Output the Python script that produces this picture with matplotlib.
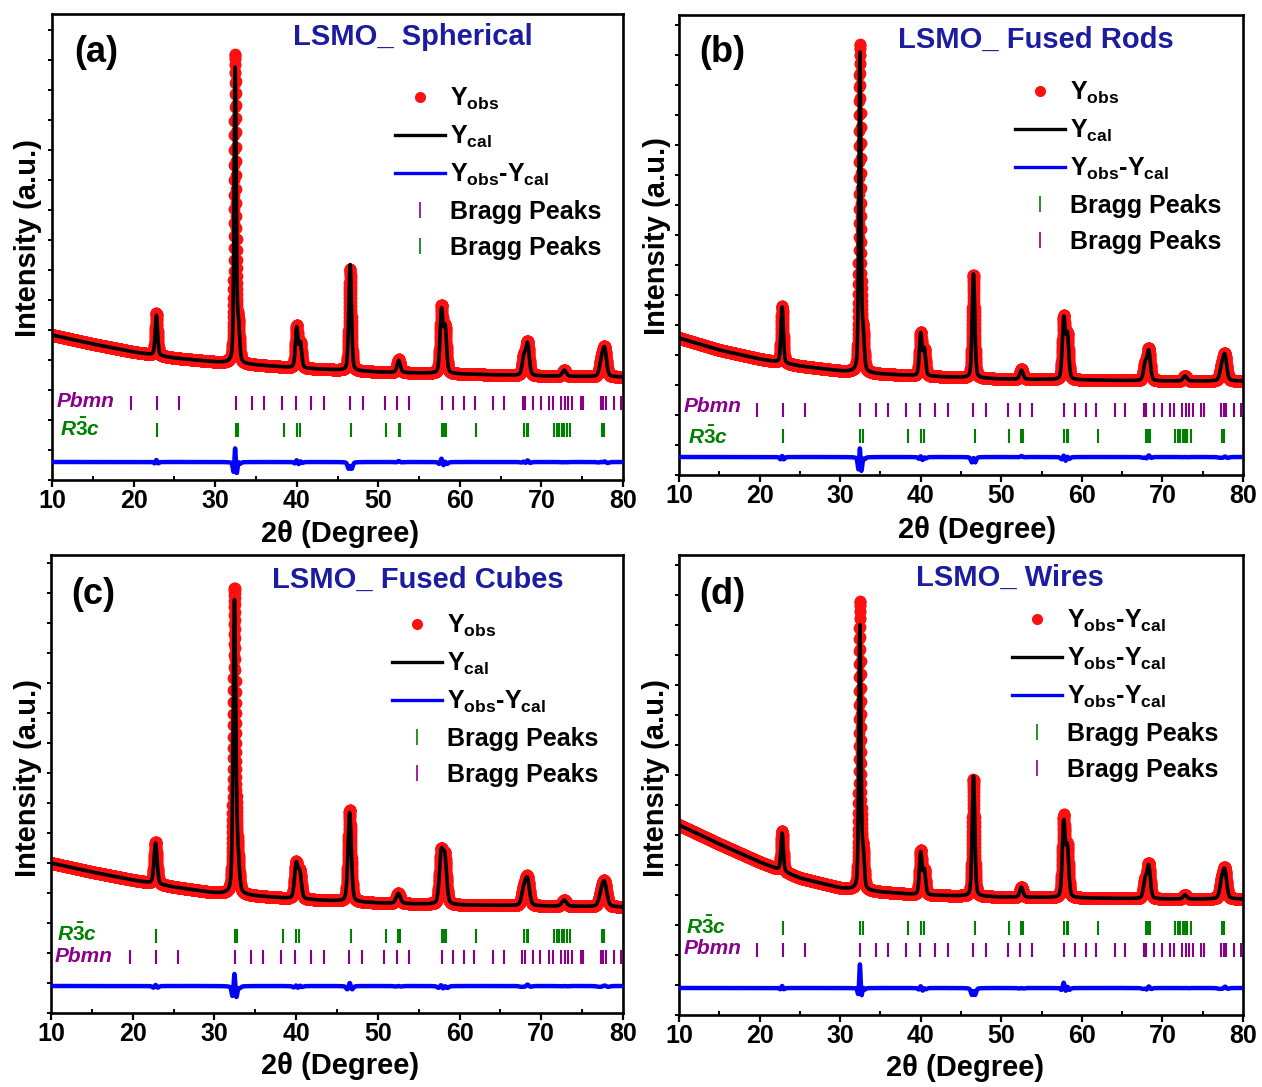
import numpy as np
import matplotlib
matplotlib.use("Agg")
import matplotlib.pyplot as plt
from matplotlib.lines import Line2D
from matplotlib.ticker import MultipleLocator

plt.rcParams['font.family'] = ['Liberation Sans', 'DejaVu Sans']
plt.rcParams['font.weight'] = 'bold'
plt.rcParams['mathtext.fontset'] = 'custom'
plt.rcParams['mathtext.rm'] = 'Liberation Sans:bold'
plt.rcParams['mathtext.bf'] = 'Liberation Sans:bold'
plt.rcParams['mathtext.it'] = 'Liberation Sans:bold:italic'

# ---------------- data ----------------
two_theta_range = (10, 80)
bg_x = [10, 15, 20, 25, 30, 35, 40, 50, 60, 70, 80]

# peak positions (deg) and FWHM (deg)
peak_pos = [22.8, 32.45, 32.85, 40.0, 40.45, 46.55, 52.5, 57.75, 58.2, 67.85, 68.3, 72.8, 77.35, 77.75]
peak_fwhm = [0.35, 0.30, 0.35, 0.38, 0.38, 0.38, 0.48, 0.42, 0.42, 0.48, 0.48, 0.55, 0.55, 0.55]

# (a) Spherical
bg_a = [145, 136, 128, 122, 118, 115, 112, 108, 106, 104, 103]
cal_a = [40, 294, 35, 40, 24, 106, 12, 62, 44, 18, 31, 6, 14, 26]
obs_a = [42, 308, 36, 42, 25, 102, 13, 66, 45, 19, 33, 6, 15, 27]
# (b) Fused Rods
bg_b = [137, 125, 116, 109, 104, 101, 99, 96, 95, 94, 94]
cal_b = [56, 318, 35, 42, 26, 104, 9, 60, 43, 16, 29, 5, 12, 24]
obs_b = [57, 327, 35, 43, 26, 103, 10, 62, 44, 16, 31, 5, 12, 25]
# (c) Fused Cubes
bg_c = [150, 141, 133, 126, 120, 117, 114, 110, 108, 107, 106]
cal_c = [41, 290, 35, 34, 25, 89, 10, 48, 44, 15, 25, 6, 11, 21]
obs_c = [42, 303, 35, 35, 26, 92, 10, 50, 45, 15, 27, 6, 11, 22]
# (d) Wires
bg_d = [190, 171, 153, 137, 127, 123, 120, 118, 117, 116, 116]
cal_d = [38, 263, 35, 42, 24, 120, 10, 74, 48, 18, 32, 4, 16, 26]
obs_d = [40, 287, 36, 44, 24, 117, 10, 80, 50, 18, 34, 4, 16, 28]

width_scale = [1.0, 1.0, 1.25, 1.0]
diff_offset = [18, 18, 27, 27]

# Bragg reflection positions
pbmn_pos = [19.7, 22.85, 25.6, 32.5, 34.5, 36.0, 38.2, 39.9, 41.8, 43.4, 46.5, 48.1, 50.8,
            52.3, 53.8, 57.8, 59.2, 60.5, 61.8, 64.1, 65.4, 67.7, 68.0, 69.0, 69.9, 70.9,
            71.4, 72.4, 72.9, 73.3, 73.8, 74.8, 75.1, 77.3, 77.6, 77.9, 78.9, 79.7]
r3c_pos = [22.9, 32.5, 32.8, 38.4, 40.0, 40.4, 46.7, 51.0, 52.5, 52.7, 57.8, 58.1, 58.3,
           62.0, 67.9, 68.2, 68.4, 71.6, 71.9, 72.2, 72.5, 72.8, 73.1, 73.5, 77.4, 77.7]

titles = ['LSMO_ Spherical', 'LSMO_ Fused Rods', 'LSMO_ Fused Cubes', 'LSMO_ Wires']
panel_tags = ['(a)', '(b)', '(c)', '(d)']
legend_labels = [
    ['Y$_{\\rm obs}$', 'Y$_{\\rm cal}$', 'Y$_{\\rm obs}$-Y$_{\\rm cal}$', 'Bragg Peaks', 'Bragg Peaks'],
    ['Y$_{\\rm obs}$', 'Y$_{\\rm cal}$', 'Y$_{\\rm obs}$-Y$_{\\rm cal}$', 'Bragg Peaks', 'Bragg Peaks'],
    ['Y$_{\\rm obs}$', 'Y$_{\\rm cal}$', 'Y$_{\\rm obs}$-Y$_{\\rm cal}$', 'Bragg Peaks', 'Bragg Peaks'],
    ['Y$_{\\rm obs}$-Y$_{\\rm cal}$', 'Y$_{\\rm obs}$-Y$_{\\rm cal}$', 'Y$_{\\rm obs}$-Y$_{\\rm cal}$', 'Bragg Peaks', 'Bragg Peaks'],
]
bragg_order = [['Pbmn', 'R3c'], ['R3c', 'Pbmn'], ['R3c', 'Pbmn'], ['R3c', 'Pbmn']]

# ---------------- styling / layout ----------------
W, H = 1262, 1087
RED, BLUE, PURPLE, GREEN, NAVY = '#ff1010', '#0000ff', '#8b008b', '#008000', '#1c1ca0'

# axes boxes in pixels: left, right, top, bottom
boxes = [(52, 623, 14, 480), (679, 1243, 15, 475), (51, 623, 555, 1013), (679, 1243, 555, 1015)]
title_xy = [(413, 37), (1036, 40), (418, 580), (1010, 578)]
tag_xy = [(96, 52), (722, 53), (93, 595), (722, 595)]
xlabel_xy = [(340, 534), (977, 530), (340, 1066), (965, 1068)]
ylabel_xy = [(28, 238), (657, 236), (28, 778), (656, 778)]
legend_xy = [(395, 86), (1015, 80), (392, 613), (1012, 608)]
# phase label (left x, centre y) and tick-row centre y, in pixels
phase_rows = [
    {'Pbmn': (57, 401, 403), 'R3c': (60, 429, 430)},
    {'Pbmn': (684, 407, 410), 'R3c': (688, 437, 436)},
    {'R3c': (57, 934, 936), 'Pbmn': (55, 957, 957)},
    {'R3c': (686, 927, 928), 'Pbmn': (684, 948, 950)},
]

fig = plt.figure(figsize=(W / 100, H / 100), dpi=100)

x = np.arange(10.0, 80.0001, 0.01)


def profile(tt, bgy, heights, fwhm_scale, wfac=1.0):
    y = np.interp(tt, bg_x, bgy).astype(float)
    eta = 0.3
    for p, h, w in zip(peak_pos, heights, peak_fwhm):
        w = w * fwhm_scale * wfac
        g = np.exp(-4 * np.log(2) * ((tt - p) / w) ** 2)
        l = 1.0 / (1.0 + 4 * ((tt - p) / w) ** 2)
        y += h * ((1 - eta) * g + eta * l)
    return y


all_bg = [bg_a, bg_b, bg_c, bg_d]
all_cal = [cal_a, cal_b, cal_c, cal_d]
all_obs = [obs_a, obs_b, obs_c, obs_d]

for i in range(4):
    l, r, t, b = boxes[i]
    ax = fig.add_axes([l / W, 1 - b / H, (r - l) / W, (b - t) / H])
    ysize = b - t
    cal = profile(x, all_bg[i], all_cal[i], width_scale[i])
    obs = profile(x, all_bg[i], all_obs[i], width_scale[i], 0.93)
    diff = obs - cal + diff_offset[i]

    ax.plot(x, obs, ls='none', marker='o', ms=8.5, mew=0, color=RED, zorder=2)
    ax.plot(x, cal, color='black', lw=2.6, zorder=3)
    ax.plot(x, diff, color=BLUE, lw=3.2, zorder=3)

    for ph in bragg_order[i]:
        lx, ly, ty = phase_rows[i][ph]
        pos = pbmn_pos if ph == 'Pbmn' else r3c_pos
        col = PURPLE if ph == 'Pbmn' else GREEN
        yc = b - ty
        ax.vlines(pos, yc - 7, yc + 7, color=col, lw=1.5, zorder=2)
        if ph == 'Pbmn':
            fig.text(lx / W, 1 - ly / H, 'Pbmn', color=col, fontsize=15,
                     fontstyle='italic', fontweight='bold', ha='left', va='center')
        else:
            fig.text(lx / W, 1 - ly / H, r'$\mathit{R\bar{3}c}$', color=col, fontsize=15,
                     ha='left', va='center')

    ax.set_xlim(*two_theta_range)
    ax.set_ylim(0, ysize)
    ax.xaxis.set_major_locator(MultipleLocator(10))
    ax.xaxis.set_minor_locator(MultipleLocator(5))
    ax.yaxis.set_major_locator(MultipleLocator(30))
    ax.tick_params(axis='x', which='major', direction='out', length=5, width=1.6,
                   labelsize=18, pad=1.5)
    ax.tick_params(axis='x', which='minor', direction='in', length=3, width=1.4)
    ax.tick_params(axis='y', which='major', direction='out', length=3, width=1.4,
                   labelleft=False)
    for lab in ax.get_xticklabels():
        lab.set_fontweight('bold')
    for s in ax.spines.values():
        s.set_linewidth(1.9)

    ax.set_xlabel('2θ (Degree)', fontsize=21, fontweight='bold')
    ax.xaxis.label.set(va='center', ha='center')
    xl, yl = xlabel_xy[i]
    ax.xaxis.set_label_coords((xl - l) / (r - l), (b - yl) / (b - t))
    ax.set_ylabel('Intensity (a.u.)', fontsize=21, fontweight='bold')
    ax.yaxis.label.set(va='center', ha='center', rotation_mode='anchor')
    xl, yl = ylabel_xy[i]
    ax.yaxis.set_label_coords((xl - l) / (r - l), (b - yl) / (b - t))

    tx, ty = title_xy[i]
    fig.text(tx / W, 1 - ty / H, titles[i], color=NAVY, fontsize=21, fontweight='bold',
             ha='center', va='center')
    tx, ty = tag_xy[i]
    fig.text(tx / W, 1 - ty / H, panel_tags[i], color='black', fontsize=26, fontweight='bold',
             ha='center', va='center')

    handles = [Line2D([], [], ls='none', marker='o', ms=8, mew=0, color=RED),
               Line2D([], [], color='black', lw=2.4),
               Line2D([], [], color=BLUE, lw=2.4)]
    for ph in bragg_order[i]:
        col = PURPLE if ph == 'Pbmn' else GREEN
        handles.append(Line2D([], [], ls='none', marker='|', ms=11, mew=1.2, color=col))
    lx, ly = legend_xy[i]
    leg = ax.legend(handles, legend_labels[i], loc='upper left',
                    bbox_to_anchor=(lx / W, 1 - ly / H), bbox_transform=fig.transFigure,
                    frameon=False, fontsize=18, handlelength=2.0, handletextpad=0.2,
                    labelspacing=0.47, borderpad=0, borderaxespad=0)
    for txt in leg.get_texts():
        txt.set_fontweight('bold')

fig.savefig('out.png', dpi=100)
